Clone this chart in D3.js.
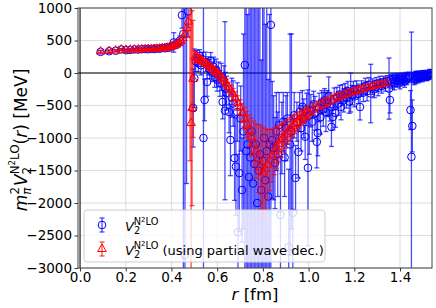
<!DOCTYPE html>
<html>
<head>
<meta charset="utf-8">
<script src="https://cdn.jsdelivr.net/npm/d3@7"></script>
<style>
  body { margin: 0; background: #fff; }
  svg { display: block; font-family: "DejaVu Sans", sans-serif; }
</style>
</head>
<body>
<div id="root"></div>
<script>
// blue series: V2 N2LO  (r [fm], value [MeV], error)
const rBlue = [0.090, 0.127, 0.156, 0.180, 0.201, 0.220, 0.238, 0.255, 0.270, 0.285,
  0.298, 0.312, 0.324, 0.336, 0.348, 0.360, 0.371, 0.382, 0.392, 0.403,
  0.410, 0.418, 0.428, 0.437, 0.446, 0.452, 0.459, 0.466, 0.473, 0.495,
  0.500, 0.506, 0.512, 0.518, 0.523, 0.529, 0.535, 0.540, 0.545, 0.550,
  0.556, 0.561, 0.567, 0.572, 0.578, 0.584, 0.589, 0.595, 0.600, 0.606,
  0.612, 0.618, 0.624, 0.630, 0.634, 0.636, 0.641, 0.652, 0.658, 0.664,
  0.670, 0.676, 0.682, 0.688, 0.691, 0.697, 0.703, 0.709, 0.715, 0.721,
  0.727, 0.733, 0.739, 0.745, 0.751, 0.757, 0.763, 0.769, 0.775, 0.781,
  0.787, 0.793, 0.799, 0.805, 0.811, 0.817, 0.823, 0.829, 0.835, 0.841,
  0.847, 0.853, 0.859, 0.865, 0.871, 0.877, 0.883, 0.889, 0.895, 0.901,
  0.907, 0.913, 0.919, 0.925, 0.931, 0.937, 0.943, 0.949, 0.955, 0.961,
  0.967, 0.973, 0.979, 0.985, 0.991, 0.997, 1.003, 1.010, 1.016, 1.022,
  1.028, 1.036, 1.040, 1.046, 1.052, 1.058, 1.064, 1.070, 1.076, 1.082,
  1.088, 1.094, 1.100, 1.106, 1.112, 1.118, 1.124, 1.130, 1.136, 1.142,
  1.148, 1.154, 1.160, 1.166, 1.172, 1.178, 1.184, 1.190, 1.196, 1.202,
  1.210, 1.218, 1.225, 1.232, 1.240, 1.248, 1.256, 1.264, 1.272, 1.280,
  1.288, 1.296, 1.304, 1.312, 1.320, 1.328, 1.336, 1.344, 1.352, 1.356,
  1.360, 1.365, 1.370, 1.375, 1.380, 1.385, 1.390, 1.395, 1.400, 1.405,
  1.410, 1.415, 1.420, 1.425, 1.430, 1.435, 1.440, 1.446, 1.450, 1.454,
  1.458, 1.462, 1.466, 1.470, 1.474, 1.478, 1.482, 1.486, 1.490, 1.494,
  1.498, 1.502, 1.506, 1.510, 1.514, 1.518, 1.522, 1.526, 1.530, 1.534,
  1.538];
const vBlue = [325, 335, 342, 362, 350, 355, 362, 360, 366, 368,
  365, 372, 368, 378, 372, 386, 380, 396, 388, 418,
  470, 430, 462, 500, 890, 600, -2800, 1300, 950, -540,
  -80, 180, 230, 150, 260, 120, 210, -1000, -415, 170,
  -138, 110, 60, 185, 20, 95, -60, 45, -100, -20,
  -160, -60, -446, -120, -580, -240, -310, -600, -1030, -380,
  -470, -1310, -1440, -600, -2450, -1540, -700, -1800, -900, 123,
  -1200, -1100, -1600, -1300, -900, -1700, -1400, -1100, -2000, -1500,
  -1250, -1800, -1350, -1000, -1650, -1200, -1900, -1100, 740, -1030,
  -1150, -1385, -900, -1250, -800, -2185, -1000, -750, -1300, -850,
  -700, -2680, -1100, -900, -2150, -650, -1615, -750, -1215, -600,
  -850, -520, -700, -980, -560, -1460, -650, -580, -750, -480,
  -620, -1060, -923, -530, -680, -450, -560, -420, -600, -470,
  -360, -520, -830, -677, -400, -615, -380, -470, -330, -520,
  -340, -420, -300, -380, -280, -440, -300, -340, -260, -360,
  -250, -320, -523, -240, -300, -200, -280, -180, -316, -210,
  -250, -170, -230, -150, -200, -140, -180, -120, -240, -415,
  -110, -140, -90, -160, -120, -80, -130, -100, -150, -70,
  -110, -90, -130, -60, -100, -80, -50, -570, -1290, -815,
  -70, -100, -40, -90, -60, -30, -80, -45, -60, -20,
  -70, -35, -50, -15, -40, -60, -25, -45, 0, -30,
  -10];
const eBlue = [20, 18, 15, 14, 14, 14, 14, 14, 14, 15,
  16, 16, 18, 18, 20, 22, 25, 28, 30, 35,
  150, 45, 55, 70, 200, 3800, 3900, 3000, 400, 600,
  450, 160, 120, 130, 100, 150, 110, 3800, 320, 150,
  220, 140, 150, 130, 150, 150, 160, 170, 180, 190,
  200, 210, 260, 230, 1370, 250, 260, 320, 550, 300,
  350, 650, 750, 450, 1200, 900, 500, 800, 1500, 3500,
  3600, 2000, 3000, 3500, 2500, 3400, 3200, 2200, 3500, 2800,
  3600, 2000, 2600, 3800, 2400, 3000, 1800, 2000, 3800, 900,
  800, 700, 600, 650, 500, 900, 550, 450, 600, 500,
  400, 1200, 1700, 1500, 1500, 350, 500, 300, 400, 300,
  350, 250, 300, 350, 250, 1200, 600, 250, 300, 200,
  260, 400, 350, 220, 260, 180, 260, 180, 300, 200,
  300, 220, 300, 200, 170, 220, 160, 180, 140, 200,
  160, 180, 140, 160, 150, 180, 300, 150, 130, 160,
  130, 150, 200, 120, 140, 120, 150, 110, 450, 120,
  130, 100, 120, 100, 110, 90, 100, 80, 470, 200,
  85, 95, 80, 100, 85, 75, 90, 80, 95, 70,
  80, 75, 90, 70, 80, 70, 65, 300, 1920, 400,
  75, 80, 65, 75, 70, 60, 70, 60, 65, 55,
  65, 55, 60, 55, 55, 60, 55, 55, 55, 55,
  50];

// red series: V2 N2LO using partial wave decomposition
const rRed = [0.090, 0.127, 0.156, 0.180, 0.201, 0.220, 0.238, 0.255, 0.270, 0.285,
  0.298, 0.312, 0.324, 0.336, 0.348, 0.360, 0.371, 0.382, 0.392, 0.403,
  0.413, 0.422, 0.432, 0.441, 0.450, 0.459, 0.467, 0.474, 0.481, 0.486,
  0.490, 0.494, 0.503, 0.512, 0.521, 0.530, 0.540, 0.550, 0.560, 0.570,
  0.580, 0.590, 0.600, 0.610, 0.620, 0.630, 0.640, 0.650, 0.660, 0.670,
  0.680, 0.690, 0.700, 0.710, 0.720, 0.730, 0.740, 0.750, 0.760, 0.770,
  0.780, 0.790, 0.800, 0.810, 0.820, 0.830, 0.840, 0.850, 0.860, 0.870,
  0.880, 0.890, 0.900, 0.910, 0.920, 0.930, 0.940, 0.950, 0.960, 0.970,
  0.980, 0.990, 1.000, 1.020, 1.040, 1.060, 1.080, 1.100, 1.120, 1.140,
  1.160, 1.180, 1.200, 1.220, 1.240, 1.260, 1.280, 1.300, 1.320, 1.340];
const vRed = [330, 338, 345, 360, 355, 358, 360, 362, 364, 366,
  368, 369, 371, 373, 376, 380, 385, 390, 398, 408,
  420, 436, 458, 490, 535, 600, 690, 790, 1450, -770,
  -540, -90, 250, 235, 215, 195, 170, 145, 118, 90,
  60, 30, -2, -38, -78, -120, -165, -215, -268, -325,
  -390, -460, -535, -615, -700, -790, -885, -985, -1090, -1200,
  -1320, -1450, -1530, -1480, -1410, -1340, -1270, -1205, -1145, -1090,
  -1040, -990, -945, -900, -860, -820, -785, -750, -718, -688,
  -660, -632, -606, -560, -518, -480, -445, -412, -380, -352,
  -326, -302, -280, -260, -240, -220, -202, -185, -168, -150];
const eRed = [15, 15, 12, 10, 10, 10, 10, 10, 10, 10,
  10, 10, 12, 12, 12, 14, 15, 16, 18, 20,
  22, 25, 28, 32, 38, 45, 60, 90, 2800, 3100,
  1500, 900, 90, 70, 60, 55, 50, 50, 48, 48,
  48, 50, 52, 55, 58, 62, 66, 72, 80, 88,
  98, 110, 125, 145, 170, 200, 240, 290, 350, 420,
  520, 650, 700, 620, 540, 470, 410, 360, 320, 285,
  255, 230, 210, 190, 175, 160, 148, 138, 128, 120,
  112, 105, 100, 92, 85, 80, 75, 70, 66, 62,
  58, 55, 52, 50, 48, 46, 44, 42, 40, 38];

const xTicks = [0.0, 0.2, 0.4, 0.6, 0.8, 1.0, 1.2, 1.4];
const yTicks = [-3000, -2500, -2000, -1500, -1000, -500, 0, 500, 1000];

const blue = rBlue.map((r, i) => ({ r: r, v: vBlue[i], e: eBlue[i] }));
const red = rRed.map((r, i) => ({ r: r, v: vRed[i], e: eRed[i] }));

// dimensioni
const W = 436, H = 308;
const margin = { top: 8, right: 4, bottom: 40, left: 78 };
const width = W - margin.left - margin.right;
const height = H - margin.top - margin.bottom;

const x = d3.scaleLinear().domain([-0.009, 1.54]).range([0, width]);
const y = d3.scaleLinear().domain([-3000, 1000]).range([height, 0]);

const svg = d3.select("#root").append("svg")
  .attr("width", W)
  .attr("height", H);

const g = svg.append("g")
  .attr("transform", `translate(${margin.left},${margin.top})`);

g.append("clipPath").attr("id", "clip")
  .append("rect").attr("width", width).attr("height", height);

// griglia
const grid = g.append("g").attr("stroke", "#dcdcdc").attr("stroke-width", 1);
xTicks.forEach(t => grid.append("line")
  .attr("x1", x(t)).attr("x2", x(t)).attr("y1", 0).attr("y2", height));
yTicks.forEach(t => grid.append("line")
  .attr("x1", 0).attr("x2", width).attr("y1", y(t)).attr("y2", y(t)));

// linee a zero
g.append("line").attr("x1", 0).attr("x2", width).attr("y1", y(0)).attr("y2", y(0))
  .attr("stroke", "#000").attr("stroke-width", 1);
g.append("line").attr("x1", x(0)).attr("x2", x(0)).attr("y1", 0).attr("y2", height)
  .attr("stroke", "#000").attr("stroke-width", 1);

const plot = g.append("g").attr("clip-path", "url(#clip)");

function errorbars(data, color, cls) {
  const grp = plot.append("g").attr("class", cls)
    .attr("stroke", color).attr("stroke-width", 1.3).attr("stroke-opacity", 0.7);
  data.forEach(d => {
    const xp = x(d.r), y1 = y(d.v - d.e), y2 = y(d.v + d.e);
    grp.append("line").attr("x1", xp).attr("x2", xp).attr("y1", y1).attr("y2", y2);
    grp.append("line").attr("x1", xp - 2.5).attr("x2", xp + 2.5).attr("y1", y1).attr("y2", y1);
    grp.append("line").attr("x1", xp - 2.5).attr("x2", xp + 2.5).attr("y1", y2).attr("y2", y2);
  });
}

const tri = d3.symbol(d3.symbolTriangle, 32);

errorbars(blue, "#0000ff", "bars-blue");
plot.append("g").selectAll("circle").data(blue).join("circle")
  .attr("cx", d => x(d.r)).attr("cy", d => y(d.v)).attr("r", 3.8)
  .attr("fill", "none").attr("stroke", "#0000ff").attr("stroke-width", 1);

errorbars(red, "#ff0000", "bars-red");
plot.append("g").selectAll("path").data(red).join("path")
  .attr("transform", d => `translate(${x(d.r)},${y(d.v)})`)
  .attr("d", tri)
  .attr("fill", "none").attr("stroke", "#ff0000").attr("stroke-width", 1);

// assi
const xAxis = d3.axisBottom(x).tickValues(xTicks).tickFormat(d3.format(".1f"))
  .tickSize(3.5).tickPadding(1);
const yAxis = d3.axisLeft(y).tickValues(yTicks).tickFormat(d3.format("d"))
  .tickSize(3.5).tickPadding(2.5);

const gx = g.append("g").attr("transform", `translate(0,${height})`).call(xAxis);
const gy = g.append("g").call(yAxis);
[gx, gy].forEach(a => {
  a.select(".domain").remove();
  a.selectAll("text").attr("font-size", 13.5).attr("fill", "#000")
    .attr("font-family", "DejaVu Sans, sans-serif");
  a.selectAll("line").attr("stroke", "#333");
});

// cornice
g.append("rect").attr("width", width).attr("height", height)
  .attr("fill", "none").attr("stroke", "#444").attr("stroke-width", 1);

// testo con pedici / apici
function richText(sel, parts, base, ratio) {
  const k = ratio || 0.7;
  const sizes = { 0: base, sub: base * k, sup: base * k, sup2: base * k * 0.72 };
  const shifts = { 0: 0, sub: base * 0.22, sup: -base * 0.45, sup2: -base * 0.72 };
  let cur = 0;
  parts.forEach(p => {
    const lvl = p.l || 0;
    const ts = sel.append("tspan").text(p.t)
      .attr("font-size", sizes[lvl])
      .attr("dy", shifts[lvl] - cur);
    if (p.i) ts.attr("font-style", "italic");
    if (p.dx) ts.attr("dx", p.dx);
    cur = shifts[lvl];
  });
}

const ylab = svg.append("text")
  .attr("transform", "translate(27,140) rotate(-90)")
  .attr("text-anchor", "middle").attr("fill", "#000");
richText(ylab, [
  { t: "m", i: true }, { t: "π", l: "sub", i: true }, { t: "2", l: "sup", dx: -7 },
  { t: "V", i: true, dx: 1 }, { t: "2", l: "sub" }, { t: "N", l: "sup", dx: -7.5 },
  { t: "2", l: "sup2" }, { t: "LO", l: "sup" },
  { t: "(" }, { t: "r", i: true }, { t: ") [MeV]" }
], 17);

const xlab = svg.append("text")
  .attr("x", 255).attr("y", 300)
  .attr("text-anchor", "middle").attr("fill", "#000");
richText(xlab, [{ t: "r", i: true }, { t: " [fm]" }], 16.5);

// legenda
const leg = svg.append("g");
leg.append("rect").attr("x", 84).attr("y", 210).attr("width", 241).attr("height", 52)
  .attr("rx", 3).attr("fill", "#fff").attr("fill-opacity", 0.8)
  .attr("stroke", "#cccccc").attr("stroke-width", 1);

function legendBar(cx, cy, color) {
  const lg = leg.append("g").attr("stroke", color).attr("stroke-width", 1.3).attr("stroke-opacity", 0.7);
  lg.append("line").attr("x1", cx).attr("x2", cx).attr("y1", cy - 7).attr("y2", cy + 7);
  lg.append("line").attr("x1", cx - 2.5).attr("x2", cx + 2.5).attr("y1", cy - 7).attr("y2", cy - 7);
  lg.append("line").attr("x1", cx - 2.5).attr("x2", cx + 2.5).attr("y1", cy + 7).attr("y2", cy + 7);
}
legendBar(102, 225, "#0000ff");
leg.append("circle").attr("cx", 102).attr("cy", 225).attr("r", 3.8)
  .attr("fill", "none").attr("stroke", "#0000ff");
legendBar(102, 249, "#ff0000");
leg.append("path").attr("transform", "translate(102,249)").attr("d", tri)
  .attr("fill", "none").attr("stroke", "#ff0000");

const legParts = [
  { t: "V", i: true }, { t: "2", l: "sub" }, { t: "N", l: "sup", dx: -6.3 },
  { t: "2", l: "sup2" }, { t: "LO", l: "sup" }
];
const l1 = leg.append("text").attr("x", 125).attr("y", 231).attr("fill", "#000");
richText(l1, legParts, 13, 0.75);
const l2 = leg.append("text").attr("x", 125).attr("y", 255).attr("fill", "#000");
richText(l2, legParts.concat([{ t: " (using partial wave dec.)" }]), 13, 0.75);
</script>
</body>
</html>
